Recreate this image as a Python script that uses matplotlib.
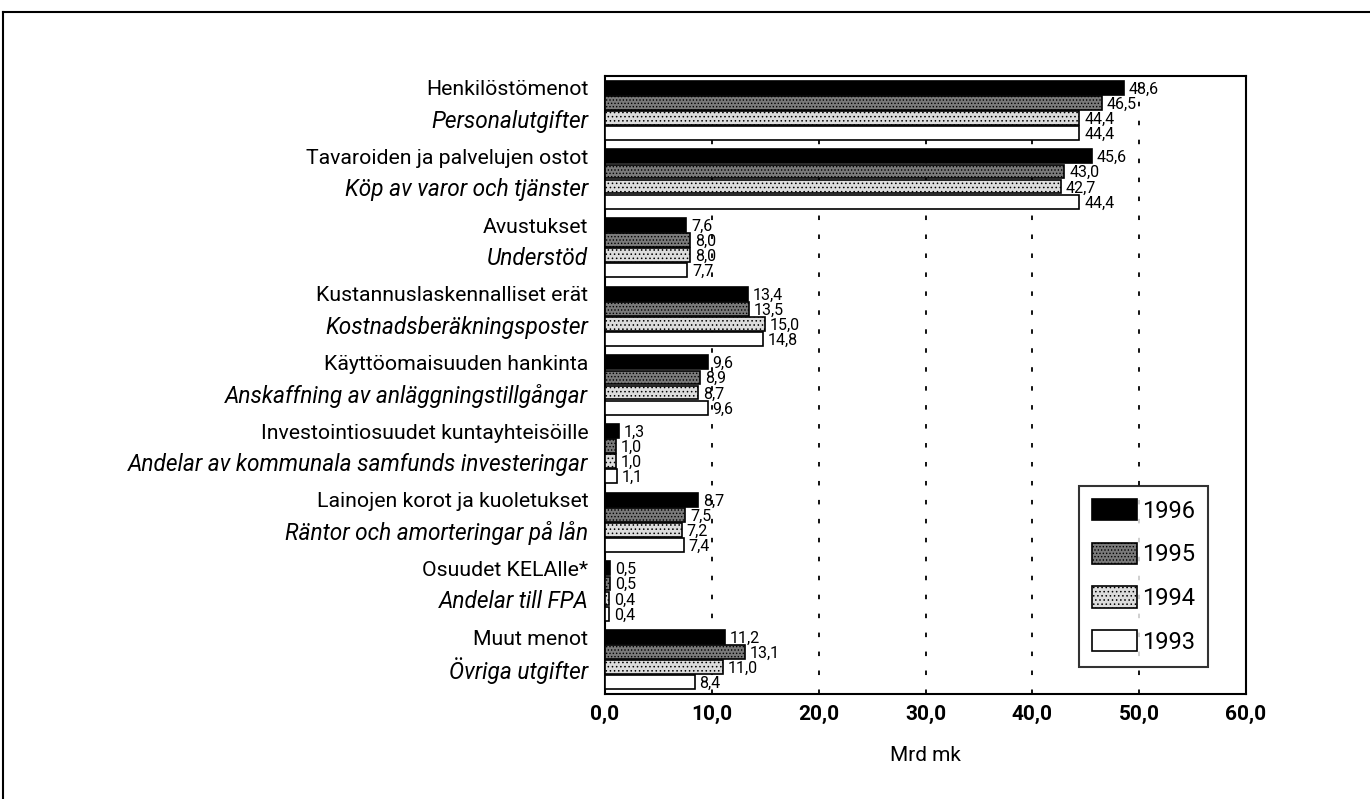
import matplotlib
matplotlib.use("Agg")
import matplotlib.pyplot as plt
from matplotlib.patches import Patch
from matplotlib.lines import Line2D
from matplotlib.transforms import blended_transform_factory
import numpy as np

# Data
fi_labels = ["Henkilöstömenot", "Tavaroiden ja palvelujen ostot", "Avustukset",
             "Kustannuslaskennalliset erät", "Käyttöomaisuuden hankinta",
             "Investointiosuudet kuntayhteisöille", "Lainojen korot ja kuoletukset",
             "Osuudet KELAlle*", "Muut menot"]
sv_labels = ["Personalutgifter", "Köp av varor och tjänster", "Understöd",
             "Kostnadsberäkningsposter", "Anskaffning av anläggningstillgångar",
             "Andelar av kommunala samfunds investeringar", "Räntor och amorteringar på lån",
             "Andelar till FPA", "Övriga utgifter"]
years = ["1996", "1995", "1994", "1993"]
v1996 = [48.6, 45.6, 7.6, 13.4, 9.6, 1.3, 8.7, 0.5, 11.2]
v1995 = [46.5, 43.0, 8.0, 13.5, 8.9, 1.0, 7.5, 0.5, 13.1]
v1994 = [44.4, 42.7, 8.0, 15.0, 8.7, 1.0, 7.2, 0.4, 11.0]
v1993 = [44.4, 44.4, 7.7, 14.8, 9.6, 1.1, 7.4, 0.4, 8.4]
x_ticks = [0, 10, 20, 30, 40, 50, 60]

plt.rcParams['font.family'] = ['Roboto', 'DejaVu Sans']
plt.rcParams['hatch.linewidth'] = 0.6

series = [v1996, v1995, v1994, v1993]
faces = ['black', '#7a7a7a', '#dcdcdc', 'white']
hatches = [None, '.....', '....', None]

fig = plt.figure(figsize=(13.7, 7.99), dpi=100)
ax = fig.add_axes([0.4416, 0.1314, 0.4679, 0.7735])

n = len(fi_labels)
y = np.arange(n)
offsets = [-0.33, -0.11, 0.11, 0.33]
for vals, off, fc, h in zip(series, offsets, faces, hatches):
    ax.barh(y + off, vals, height=0.2, color=fc, edgecolor='black',
            linewidth=1.2, hatch=h, zorder=3)
    for yi, v in zip(y, vals):
        ax.text(v + 0.45, yi + off + 0.02, f"{v:.1f}".replace('.', ','),
                ha='left', va='center', fontsize=11.5, zorder=4)

for xv in x_ticks[1:-1]:
    ax.axvline(xv, color='black', linewidth=1.3, linestyle=(0, (2.5, 8)), zorder=1)

ax.set_xlim(0, 60)
ax.set_ylim(n - 0.5, -0.5)
ax.set_xticks(x_ticks)
ax.set_xticklabels([f"{t:.1f}".replace('.', ',') for t in x_ticks],
                   fontsize=15, fontweight='bold')
ax.tick_params(axis='x', length=0, pad=8)
ax.set_yticks([])
ax.set_xlabel("Mrd mk", fontsize=15, labelpad=16)
for s in ax.spines.values():
    s.set_linewidth(1.5)

trans = blended_transform_factory(ax.transAxes, ax.transData)
for yi, fi, sv in zip(y, fi_labels, sv_labels):
    ax.text(-0.026, yi - 0.30, fi, transform=trans, ha='right', va='center', fontsize=15.3)
    ax.text(-0.026, yi + 0.16, sv, transform=trans, ha='right', va='center',
            fontsize=16.3, style='italic')

handles = [Patch(facecolor=fc, edgecolor='black', hatch=h, linewidth=1.2)
           for fc, h in zip(faces, hatches)]
leg = ax.legend(handles, years, loc='upper left', bbox_to_anchor=(0.7395, 0.3366),
                fontsize=17, frameon=True, fancybox=False, handlelength=1.9,
                handleheight=1.0, handletextpad=0.2, labelspacing=0.85,
                borderpad=0.55, borderaxespad=0)
leg.get_frame().set_edgecolor('black')
leg.get_frame().set_linewidth(1.5)

# outer frame
fig.add_artist(Line2D([0.002, 1.0], [0.985, 0.985], color='black', linewidth=1.5))
fig.add_artist(Line2D([0.002, 0.002], [0.0, 0.985], color='black', linewidth=1.5))

fig.savefig("out.png", dpi=100)
